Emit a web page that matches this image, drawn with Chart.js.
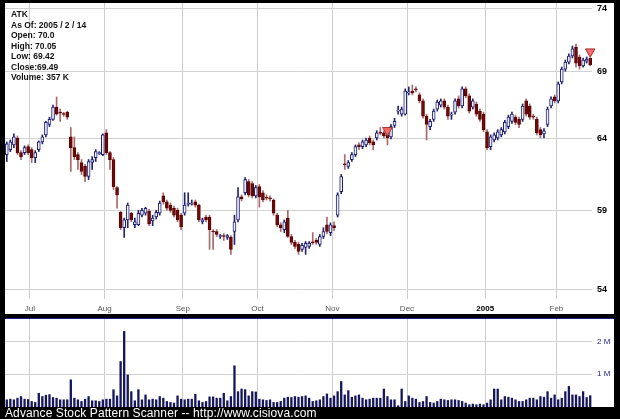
<!DOCTYPE html>
<html>
<head>
<meta charset="utf-8">
<script src="https://cdn.jsdelivr.net/npm/chart.js@4.4.0/dist/chart.umd.min.js"></script>
<style>
  html, body { margin: 0; padding: 0; background: #000; }
  body { width: 620px; height: 419px; position: relative; overflow: hidden;
         font-family: "Liberation Sans", Arial, sans-serif; }
  #pricePanel { position: absolute; left: 5px; top: 3px; width: 609px; height: 311px; background: #fff; }
  #volPanel { position: absolute; left: 5px; top: 318px; width: 609px; height: 88px; background: #fff;
              border-top: 1px solid #1c1c8c; }
  canvas { display: block; }
  #info { position: absolute; left: 11px; top: 9px; font-size: 8.5px; font-weight: bold;
          line-height: 10.5px; color: #111; white-space: pre; }
  #caption { position: absolute; left: 5px; top: 406px; font-size: 12px; letter-spacing: 0.1px;
             color: #fff; white-space: pre; }
</style>
</head>
<body>
<div id="pricePanel"><canvas id="price" width="609" height="311"></canvas></div>
<div id="volPanel"><canvas id="vol" width="609" height="88"></canvas></div>
<div id="info">ATK
As Of: 2005 / 2 / 14
Open: 70.0
High: 70.05
Low: 69.42
Close:69.49
Volume: 357 K</div>
<div id="caption">Advance Stock Pattern Scanner -- http://www.cisiova.com</div>
<script>
'use strict';

// trading days, 22 Jun 2004 - 14 Feb 2005
const dates = [
  '6/22','6/23','6/24','6/25','6/28','6/29','6/30',
  '7/1','7/2','7/6','7/7','7/8','7/9','7/12','7/13','7/14','7/15','7/16','7/19','7/20','7/21','7/22','7/23','7/26','7/27','7/28','7/29','7/30',
  '8/2','8/3','8/4','8/5','8/6','8/9','8/10','8/11','8/12','8/13','8/16','8/17','8/18','8/19','8/20','8/23','8/24','8/25','8/26','8/27','8/30','8/31',
  '9/1','9/2','9/3','9/7','9/8','9/9','9/10','9/13','9/14','9/15','9/16','9/17','9/20','9/21','9/22','9/23','9/24','9/27','9/28','9/29','9/30',
  '10/1','10/4','10/5','10/6','10/7','10/8','10/11','10/12','10/13','10/14','10/15','10/18','10/19','10/20','10/21','10/22','10/25','10/26','10/27','10/28','10/29',
  '11/1','11/2','11/3','11/4','11/5','11/8','11/9','11/10','11/11','11/12','11/15','11/16','11/17','11/18','11/19','11/22','11/23','11/24','11/26','11/29','11/30',
  '12/1','12/2','12/3','12/6','12/7','12/8','12/9','12/10','12/13','12/14','12/15','12/16','12/17','12/20','12/21','12/22','12/23','12/27','12/28','12/29','12/30','12/31',
  '1/3','1/4','1/5','1/6','1/7','1/10','1/11','1/12','1/13','1/14','1/18','1/19','1/20','1/21','1/24','1/25','1/26','1/27','1/28','1/31',
  '2/1','2/2','2/3','2/4','2/7','2/8','2/9','2/10','2/11','2/14'
];

const opens = [
  62.82, 63.17, 63.51, 64.00, 62.96, 62.96, 63.38,
  63.17, 62.61, 63.17, 63.72, 64.23, 64.98, 65.36, 66.27, 65.89, 65.74,
  65.89, 64.08, 63.31, 62.82, 62.26, 61.99, 61.29, 62.26, 62.61, 62.89, 62.82,
  64.38, 62.96, 62.47, 60.53, 58.87, 57.86, 58.37, 58.81, 58.05, 58.05,
  58.68, 58.81, 58.94, 58.30, 58.56, 58.81, 59.97, 59.56, 59.35, 59.14,
  59.00, 58.68,
  58.81, 59.42, 59.42, 59.56, 59.35, 58.24, 58.56, 58.56, 57.61, 57.61,
  57.29, 57.31, 57.23, 57.23, 57.61, 58.37, 59.90, 60.18, 60.94, 60.81,
  59.97,
  60.60, 60.18, 59.83, 59.83, 59.69, 58.68, 58.05, 57.73, 58.49, 57.29,
  56.91, 56.78, 56.47, 56.59, 56.66, 56.91, 57.04, 56.78, 57.29, 58.05,
  57.54,
  57.99, 58.68, 60.25, 62.13, 61.99, 62.47, 62.82, 63.51, 63.38, 63.51,
  64.00, 63.72, 64.00, 64.38, 64.38, 64.23, 64.08, 64.91, 65.97, 65.74,
  65.74,
  67.33, 67.48, 67.64, 67.18, 66.73, 65.59, 64.83, 65.36, 66.12, 66.42,
  66.73, 66.27, 65.67, 65.89, 66.88, 66.35, 67.64, 67.11, 66.27, 66.50,
  65.97, 65.74,
  64.45, 63.38, 63.86, 64.00, 64.23, 64.45, 64.83, 65.21, 65.52, 65.36,
  65.36, 66.73, 66.35, 65.59, 65.36, 64.61, 64.30, 64.98, 66.35, 67.03,
  66.73, 68.17, 69.16, 69.71, 70.19, 70.90, 70.11, 69.40, 69.79, 70.00
];

const highs = [
  63.72, 63.86, 64.30, 64.15, 63.10, 63.44, 63.51,
  63.31, 63.10, 63.79, 64.23, 65.21, 65.52, 66.42, 67.03, 66.12, 65.89,
  65.97, 64.76, 64.08, 62.96, 62.47, 62.13, 62.47, 62.68, 63.17, 63.03, 64.30,
  64.61, 63.03, 62.61, 60.60, 58.94, 58.49, 59.49, 58.87, 58.49, 59.00,
  59.14, 59.21, 59.07, 58.68, 59.00, 59.62, 60.18, 59.69, 59.49, 59.28,
  59.14, 58.81,
  60.18, 60.18, 59.69, 59.69, 59.42, 58.49, 58.68, 58.68, 57.73, 57.73,
  57.42, 57.48, 57.42, 57.35, 58.68, 60.53, 60.04, 61.22, 61.08, 60.94,
  60.67,
  60.74, 60.32, 60.04, 59.97, 59.76, 58.81, 58.18, 58.37, 59.00, 57.42,
  57.04, 56.91, 56.85, 56.97, 56.97, 57.54, 57.16, 57.42, 57.86, 58.56,
  58.18,
  58.24, 60.18, 61.43, 62.82, 62.40, 62.96, 63.51, 63.65, 63.86, 64.00,
  64.15, 63.86, 64.53, 64.76, 64.53, 64.38, 64.98, 65.44, 66.35, 66.27,
  67.64,
  67.79, 67.94, 67.79, 67.33, 66.88, 65.74, 65.36, 66.12, 66.80, 66.88,
  66.88, 66.42, 65.89, 66.88, 67.11, 67.79, 67.79, 67.26, 66.88, 66.65,
  66.12, 65.89,
  64.61, 64.23, 64.38, 64.61, 64.76, 65.29, 65.67, 65.89, 65.67, 65.52,
  66.50, 66.88, 66.50, 65.74, 65.52, 64.76, 64.68, 66.27, 67.03, 67.18,
  68.17, 69.32, 69.87, 70.35, 70.98, 71.14, 70.27, 70.03, 70.11, 70.05
];

const lows = [
  62.33, 63.03, 63.31, 62.82, 62.47, 62.82, 62.82,
  62.26, 62.26, 63.03, 63.58, 64.08, 64.83, 65.29, 65.67, 65.21, 65.59,
  65.36, 61.64, 62.47, 61.78, 61.43, 60.94, 61.08, 61.78, 62.33, 62.82, 62.75,
  62.82, 61.78, 60.39, 59.14, 57.73, 57.23, 57.86, 58.24, 57.86, 57.99,
  58.56, 58.68, 57.99, 57.99, 58.43, 58.68, 59.42, 59.00, 58.87, 58.56,
  58.24, 57.73,
  58.68, 59.28, 59.35, 59.21, 58.24, 58.11, 58.24, 56.47, 56.47, 57.29,
  57.16, 57.04, 57.10, 56.15, 56.78, 58.24, 59.62, 60.04, 59.90, 59.83,
  59.83,
  59.21, 59.56, 59.69, 59.62, 58.68, 57.92, 57.61, 57.54, 57.23, 56.78,
  56.53, 56.15, 56.34, 56.15, 56.53, 56.78, 56.78, 56.66, 57.16, 57.48,
  57.35,
  57.67, 58.56, 60.11, 61.78, 61.85, 62.33, 62.68, 63.17, 63.24, 63.38,
  63.51, 63.17, 63.86, 64.23, 64.00, 63.51, 63.93, 64.76, 65.74, 65.59,
  65.67,
  67.18, 67.18, 67.41, 66.58, 65.44, 63.86, 64.61, 65.21, 65.97, 66.27,
  66.12, 65.36, 65.36, 65.74, 66.20, 66.20, 66.96, 65.82, 66.12, 65.59,
  65.21, 64.45,
  63.17, 63.17, 63.72, 63.86, 64.08, 64.30, 64.68, 65.06, 64.98, 64.76,
  65.21, 65.59, 65.36, 65.36, 64.23, 64.00, 64.00, 64.83, 66.20, 66.58,
  66.58, 68.02, 69.00, 69.56, 70.03, 69.32, 69.16, 69.32, 69.63, 69.42
];

const closes = [
  63.58, 63.72, 64.08, 62.96, 62.68, 63.31, 62.96,
  62.61, 62.96, 63.72, 64.08, 65.14, 65.36, 66.27, 65.74, 65.82, 65.72,
  65.52, 63.31, 62.68, 62.47, 61.64, 61.29, 62.33, 62.47, 63.03, 62.96, 64.23,
  62.96, 62.47, 60.60, 60.04, 57.86, 58.37, 59.35, 58.37, 58.24, 58.81,
  59.00, 59.14, 58.11, 58.49, 58.87, 59.49, 59.56, 59.14, 59.00, 58.68,
  58.37, 57.92,
  59.35, 59.49, 59.49, 59.35, 58.37, 58.37, 58.37, 57.73, 57.58, 57.42,
  57.31, 57.29, 57.35, 56.47, 58.24, 59.90, 59.76, 61.08, 60.04, 59.97,
  60.53,
  59.90, 59.69, 59.81, 59.76, 58.81, 58.05, 57.86, 58.24, 57.29, 56.91,
  56.66, 56.34, 56.72, 56.85, 56.85, 56.89, 56.91, 57.29, 57.61, 57.61,
  58.05,
  57.86, 60.04, 61.29, 62.10, 62.26, 62.82, 63.38, 63.38, 63.72, 63.86,
  63.65, 63.51, 64.38, 64.36, 64.15, 64.00, 64.83, 65.21, 66.05, 66.12,
  67.48,
  67.41, 67.33, 67.56, 66.73, 65.59, 64.98, 65.21, 65.97, 66.65, 66.73,
  66.27, 65.59, 65.74, 66.73, 66.35, 67.64, 67.11, 65.97, 66.73, 65.74,
  65.36, 64.61,
  63.31, 64.08, 64.23, 64.45, 64.61, 65.14, 65.52, 65.74, 65.14, 64.98,
  66.35, 65.74, 65.52, 65.52, 64.38, 64.23, 64.53, 66.12, 66.88, 66.73,
  68.02, 69.16, 69.71, 70.19, 70.75, 69.63, 69.40, 69.87, 69.95, 69.49
];

// volume in thousands of shares
const volumeK = [
  230, 250, 230, 280, 330, 250, 240, 180, 150, 430,
  330, 370, 390, 300, 280, 230, 230, 230, 840, 280,
  230, 180, 250, 330, 200, 200, 180, 230, 250, 250,
  540, 350, 1400, 2320, 990, 480, 200, 540, 230, 380,
  230, 250, 230, 330, 280, 180, 150, 130, 350, 250,
  230, 250, 250, 400, 200, 150, 180, 320, 320, 280,
  280, 430, 200, 330, 1270, 480, 560, 540, 350, 480,
  470, 250, 230, 210, 230, 150, 150, 180, 280, 310,
  300, 330, 310, 330, 350, 280, 180, 200, 230, 330,
  410, 280, 350, 480, 790, 380, 510, 310, 350, 380,
  280, 230, 250, 280, 280, 280, 560, 330, 230, 230,
  50, 560, 180, 350, 280, 250, 150, 180, 330, 150,
  130, 180, 250, 230, 210, 230, 230, 210, 180, 130,
  80, 100, 80, 100, 80, 130, 230, 560, 560, 230,
  330, 310, 280, 230, 180, 180, 230, 280, 280, 230,
  330, 310, 480, 280, 380, 230, 280, 480, 640, 380,
  380, 330, 480, 300, 357
];

const tickDates = ['7/1', '8/2', '9/1', '10/1', '11/1', '12/1', '1/3', '2/1'];
const tickNames = ['Jul', 'Aug', 'Sep', 'Oct', 'Nov', 'Dec', '2005', 'Feb'];
const priceTicks = [54, 59, 64, 69, 74];
const volumeTicks = [1000000, 2000000];

// pattern signals (red down triangles)
const signalDates = ['11/22', '2/14'];
const signalPrices = [64.56, 70.53];

Chart.defaults.font.family = '"Liberation Sans", Arial, sans-serif';

function isUp(i) {
    return closes[i] >= opens[i];
}
function tickName(i) {
    let k = tickDates.indexOf(dates[i]);
    return k >= 0 ? tickNames[k] : '';
}
function gridColor(ctx) {
    return (ctx.index < dates.length && tickName(ctx.index) !== '') ? '#cdcdcd' : 'rgba(0,0,0,0)';
}
// keep the plot area flush with the canvas edges
function noPadding(s) {
    s.paddingTop = 0;
    s.paddingBottom = 0;
    s.paddingLeft = 0;
    s.paddingRight = 0;
}

let bodies = [];
let wicks = [];
let bodyFill = [];
let bodyLine = [];
let wickColor = [];
let signals = [];
for (let i = 0; i < dates.length; i++) {
    bodies.push([opens[i], closes[i]]);
    wicks.push([lows[i], highs[i]]);
    bodyFill.push(isUp(i) ? '#f2f2fa' : '#6e0c0c');
    bodyLine.push(isUp(i) ? '#1e1e78' : '#5c0000');
    wickColor.push(isUp(i) ? '#24246e' : '#a86a6a');
    let s = signalDates.indexOf(dates[i]);
    signals.push(s >= 0 ? signalPrices[s] : null);
}

new Chart(document.getElementById('price'), {
    type: 'bar',
    data: {
        labels: dates,
        datasets: [{
            type: 'line',
            data: signals,
            showLine: false,
            pointStyle: 'triangle',
            rotation: 180,
            radius: 5.5,
            backgroundColor: '#f26a6a',
            borderColor: '#a83030',
            borderWidth: 1,
            order: 0
        }, {
            data: bodies,
            backgroundColor: bodyFill,
            borderColor: bodyLine,
            borderWidth: 1,
            borderSkipped: false,
            barThickness: 3,
            minBarLength: 1,
            grouped: false,
            order: 1
        }, {
            data: wicks,
            backgroundColor: wickColor,
            barThickness: 1,
            grouped: false,
            order: 2
        }]
    },
    options: {
        responsive: false,
        animation: false,
        devicePixelRatio: 1,
        layout: { padding: 0, autoPadding: false },
        plugins: { legend: { display: false }, tooltip: { enabled: false } },
        scales: {
            x: {
                type: 'category',
                offset: true,
                border: { display: false },
                grid: { offset: true, drawTicks: false, color: gridColor, lineWidth: 1 },
                ticks: {
                    autoSkip: false,
                    maxRotation: 0,
                    padding: 5,
                    labelOffset: -1.8,
                    color: ctx => tickName(ctx.index) === '2005' ? '#000' : '#555',
                    font: ctx => ({ size: 8, weight: tickName(ctx.index) === '2005' ? 'bold' : 'normal' }),
                    callback: (v, i) => tickName(i)
                },
                afterFit: s => { s.height = 15; noPadding(s); }
            },
            y: {
                type: 'logarithmic',
                position: 'right',
                min: 53.4,
                max: 74.5,
                border: { display: false },
                grid: { drawTicks: false, color: '#d2d2d2' },
                ticks: { padding: 5, color: '#000', font: { size: 9, weight: 'bold' }, callback: v => String(v) },
                afterBuildTicks: s => { s.ticks = priceTicks.map(v => ({ value: v })); },
                afterFit: s => { s.width = 22; noPadding(s); }
            }
        }
    }
});

new Chart(document.getElementById('vol'), {
    type: 'bar',
    data: {
        labels: dates,
        datasets: [{
            data: volumeK.map(v => v * 1000),
            backgroundColor: '#16165e',
            barPercentage: 0.65,
            categoryPercentage: 1
        }]
    },
    options: {
        responsive: false,
        animation: false,
        devicePixelRatio: 1,
        layout: { padding: 0, autoPadding: false },
        plugins: { legend: { display: false }, tooltip: { enabled: false } },
        scales: {
            x: {
                type: 'category',
                offset: true,
                border: { display: false },
                grid: { offset: true, drawTicks: false, color: gridColor },
                ticks: { display: false },
                afterFit: s => { s.height = 0; noPadding(s); }
            },
            y: {
                position: 'right',
                min: 0,
                max: 2690000,
                border: { display: false },
                grid: { drawTicks: false, color: '#d2d2d2' },
                ticks: { padding: 5, color: '#1c1c8c', font: { size: 8 }, callback: v => (v / 1000000) + ' M' },
                afterBuildTicks: s => { s.ticks = volumeTicks.map(v => ({ value: v })); },
                afterFit: s => { s.width = 22; noPadding(s); }
            }
        }
    }
});
</script>
</body>
</html>
